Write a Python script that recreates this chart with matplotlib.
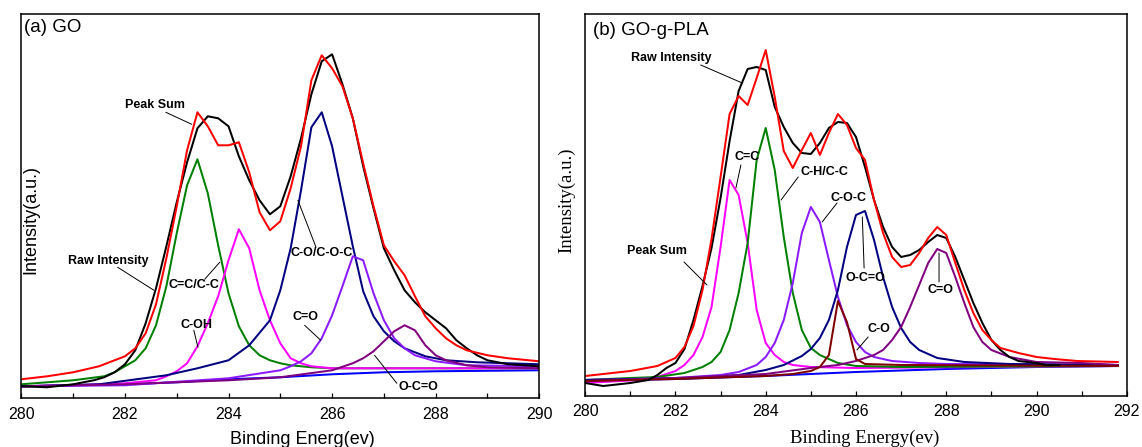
import matplotlib
matplotlib.use("Agg")
import matplotlib.pyplot as plt

plt.rcParams['font.family'] = ['Liberation Sans', 'DejaVu Sans']

# ---------------- (a) GO ----------------
go_raw_e = [280, 280.5, 281, 281.4, 281.6, 281.8, 282, 282.2, 282.4, 282.6, 282.8, 283, 283.2, 283.4, 283.6,
            283.8, 284, 284.2, 284.4, 284.6, 284.8, 285, 285.2, 285.4, 285.6, 285.8, 286, 286.2, 286.4, 286.6,
            286.8, 287, 287.2, 287.4, 287.6, 287.8, 288, 288.2, 288.4, 288.6, 288.8, 289, 289.4, 290]
go_raw_i = [12, 11, 14, 18, 21, 26, 34, 48, 75, 110, 152, 196, 236, 270, 282,
            280, 272, 242, 218, 198, 184, 192, 222, 260, 304, 337, 344, 314, 280, 232,
            190, 150, 128, 108, 96, 86, 78, 70, 58, 50, 43, 38, 34, 32]

go_sum_e = [280, 280.5, 281, 281.5, 282, 282.2, 282.4, 282.6, 282.8, 283, 283.2, 283.4, 283.6, 283.8, 284,
            284.2, 284.4, 284.6, 284.8, 285, 285.2, 285.4, 285.6, 285.8, 286, 286.2, 286.4, 286.6, 286.8, 287,
            287.2, 287.4, 287.6, 287.8, 288, 288.2, 288.4, 288.6, 289, 289.4, 290]
go_sum_i = [19, 22, 26, 32, 42, 50, 65, 94, 140, 192, 248, 286, 272, 253, 253,
            256, 226, 186, 168, 177, 210, 252, 318, 343, 330, 312, 280, 235, 192, 153,
            137, 123, 102, 82, 70, 60, 53, 48, 43, 40, 37]

go_cc_e = [280, 281, 281.6, 281.8, 282, 282.2, 282.4, 282.6, 282.8, 283, 283.2, 283.4, 283.6, 283.8, 284,
           284.2, 284.4, 284.6, 284.8, 285, 285.2, 285.6, 286, 287, 290]
go_cc_i = [14, 18, 22, 26, 32, 38, 50, 73, 112, 165, 213, 239, 205, 153, 105,
           72, 53, 43, 38, 35, 33, 31, 30, 30, 30]

go_coh_e = [280, 281, 282, 282.6, 282.8, 283, 283.2, 283.4, 283.6, 283.8, 284, 284.2, 284.4, 284.6, 284.8,
            285, 285.2, 285.4, 285.6, 286, 287, 290]
go_coh_i = [12, 13, 15, 18, 22, 27, 35, 52, 75, 102, 138, 169, 150, 108, 78,
            55, 40, 35, 32, 30, 30, 30]

go_co_e = [280, 281.5, 282.8, 283.4, 284, 284.4, 284.8, 285, 285.2, 285.4, 285.6, 285.8, 286, 286.2, 286.4,
           286.6, 286.8, 287, 287.2, 287.4, 287.8, 288.2, 288.8, 290]
go_co_i = [12, 14, 23, 30, 38, 53, 78, 108, 150, 208, 271, 286, 252, 202, 152,
           107, 82, 67, 57, 50, 42, 38, 36, 34]

go_c_o_e = [280, 282, 284, 285, 285.2, 285.4, 285.6, 285.8, 286, 286.2, 286.4, 286.6, 286.8, 287, 287.2,
            287.4, 287.6, 288, 288.6, 290]
go_c_o_i = [12, 13, 20, 28, 32, 37, 45, 60, 83, 112, 142, 138, 105, 78, 60,
            50, 43, 37, 33, 32]

go_occ_e = [280, 282, 284, 285, 286, 286.4, 286.6, 286.8, 287, 287.2, 287.4, 287.6, 287.8, 288, 288.2,
            288.6, 289, 290]
go_occ_i = [12, 14, 18, 21, 28, 35, 40, 47, 57, 67, 73, 68, 53, 43, 38,
            33, 31, 30]

go_bg_e = [280, 282, 283, 284, 285, 286, 287, 288, 290]
go_bg_i = [12, 14, 16, 19, 21, 24, 26, 27, 28]

# ---------------- (b) GO-g-PLA ----------------
pla_raw_e = [280, 280.4, 281, 281.4, 281.6, 281.8, 282, 282.2, 282.4, 282.6, 282.8, 283, 283.2, 283.4, 283.6,
             283.8, 284, 284.2, 284.4, 284.6, 284.8, 285, 285.2, 285.4, 285.6, 285.8, 286, 286.2, 286.4, 286.6,
             286.8, 287, 287.2, 287.4, 287.6, 287.8, 288, 288.2, 288.4, 288.6, 288.8, 289, 289.2, 289.4, 289.6,
             290, 290.2, 290.5]
pla_raw_i = [13, 10, 13, 16, 21, 28, 33, 47, 76, 110, 148, 198, 255, 305, 327,
             329, 326, 289, 269, 253, 243, 242, 253, 268, 274, 273, 259, 229, 196, 169,
             149, 139, 141, 146, 154, 161, 158, 139, 116, 93, 73, 56, 46, 39, 35,
             33, 31, 31]

pla_sum_e = [280, 281, 281.6, 282, 282.2, 282.4, 282.6, 282.8, 283, 283.2, 283.4, 283.6, 283.8, 284, 284.2,
             284.4, 284.6, 284.8, 285, 285.2, 285.4, 285.6, 285.8, 286, 286.2, 286.4, 286.6, 286.8, 287, 287.2,
             287.4, 287.6, 287.8, 288, 288.2, 288.4, 288.6, 288.8, 289, 289.2, 289.6, 290, 290.4, 290.9, 291.8]
pla_sum_i = [20, 25, 30, 38, 49, 70, 106, 157, 219, 282, 300, 291, 318, 346, 299,
             245, 228, 246, 263, 241, 263, 282, 271, 248, 236, 196, 163, 139, 129, 131,
             143, 158, 169, 161, 133, 106, 83, 66, 56, 48, 43, 39, 37, 35, 34]

pla_cc_e = [280, 281.2, 281.6, 282, 282.2, 282.4, 282.6, 282.8, 283, 283.2, 283.4, 283.6, 283.8, 284, 284.2,
            284.4, 284.6, 285, 286, 291.8]
pla_cc_i = [13, 16, 19, 25, 31, 41, 59, 89, 149, 216, 201, 153, 86, 53, 41,
            34, 31, 29, 28, 30]

pla_ch_e = [280, 281, 281.6, 282.2, 282.6, 282.8, 283, 283.2, 283.4, 283.6, 283.8, 284, 284.2, 284.4, 284.6,
            284.8, 285, 285.2, 285.6, 286, 287, 291.8]
pla_ch_i = [16, 18, 19, 23, 29, 34, 44, 66, 103, 153, 236, 268, 226, 159, 103,
            66, 48, 41, 33, 30, 29, 30]

pla_coc_e = [280, 282, 283, 283.4, 283.8, 284, 284.2, 284.4, 284.6, 284.8, 285, 285.2, 285.4, 285.6, 285.8,
             286, 286.2, 286.4, 286.8, 287.4, 288, 291.8]
pla_coc_i = [16, 18, 21, 24, 31, 39, 53, 76, 113, 163, 189, 174, 136, 99, 71,
             54, 44, 39, 35, 33, 32, 31]

pla_oco_e = [280, 282.5, 283.4, 284, 284.4, 284.8, 285, 285.2, 285.4, 285.6, 285.8, 286, 286.2, 286.4, 286.6,
             286.8, 287, 287.2, 287.4, 287.8, 288.4, 289.4, 291.8]
pla_oco_i = [16, 18, 21, 26, 31, 40, 47, 58, 76, 106, 149, 181, 185, 156, 119,
             89, 68, 54, 46, 38, 34, 32, 31]

pla_c_o_e = [280, 282, 284, 284.6, 285, 285.2, 285.4, 285.6, 285.8, 286, 286.2, 287, 291.8]
pla_c_o_i = [15, 17, 20, 22, 25, 29, 41, 95, 74, 37, 32, 31, 30]

pla_co_e = [280, 282, 284, 285, 285.6, 286, 286.4, 286.6, 286.8, 287, 287.2, 287.4, 287.6, 287.8, 288,
            288.2, 288.4, 288.6, 288.8, 289, 289.4, 290, 291, 291.8]
pla_co_i = [15, 18, 22, 28, 31, 35, 41, 46, 56, 69, 89, 111, 133, 147, 143,
            119, 93, 69, 54, 46, 39, 34, 33, 31]

pla_bg_e = [280, 282, 284, 286, 288, 290, 291.8]
pla_bg_i = [15, 17, 20, 24, 27, 29, 30]

lw = 1.45
fig = plt.figure(figsize=(11.42, 4.47), dpi=100)
ax1 = fig.add_axes([0.0187, 0.109, 0.4535, 0.8597])
ax2 = fig.add_axes([0.5124, 0.1141, 0.4743, 0.8546])

# panel a
ax1.plot(go_bg_e, go_bg_i, color="#0000ff", lw=lw)
ax1.plot(go_cc_e, go_cc_i, color="#008000", lw=lw)
ax1.plot(go_coh_e, go_coh_i, color="#ff00ff", lw=lw)
ax1.plot(go_co_e, go_co_i, color="#000080", lw=lw)
ax1.plot(go_c_o_e, go_c_o_i, color="#8c1aff", lw=lw)
ax1.plot(go_occ_e, go_occ_i, color="#800080", lw=lw)
ax1.plot(go_raw_e, go_raw_i, color="black", lw=lw)
ax1.plot(go_sum_e, go_sum_i, color="#ff0000", lw=lw)
ax1.set_xlim(280, 290)
ax1.set_ylim(0, 384.3)
ax1.set_xticks(range(280, 291, 2))
ax1.set_xticks(range(280, 291, 1), minor=True)

# panel b
ax2.plot(pla_bg_e, pla_bg_i, color="#0000ff", lw=lw)
ax2.plot(pla_cc_e, pla_cc_i, color="#ff00ff", lw=lw)
ax2.plot(pla_ch_e, pla_ch_i, color="#008000", lw=lw)
ax2.plot(pla_coc_e, pla_coc_i, color="#8c1aff", lw=lw)
ax2.plot(pla_oco_e, pla_oco_i, color="#000080", lw=lw)
ax2.plot(pla_co_e, pla_co_i, color="#800080", lw=lw)
ax2.plot(pla_c_o_e, pla_c_o_i, color="#800000", lw=lw)
ax2.plot(pla_raw_e, pla_raw_i, color="black", lw=lw)
ax2.plot(pla_sum_e, pla_sum_i, color="#ff0000", lw=lw)
ax2.set_xlim(280, 292)
ax2.set_ylim(0, 382)
ax2.set_xticks(range(280, 293, 2))
ax2.set_xticks(range(280, 293, 1), minor=True)

for ax in (ax1, ax2):
    ax.set_yticks([])
    ax.tick_params(axis="x", which="both", direction="in", length=3.5, width=0.9,
                   labelsize=11.5, pad=6)
    for s in ax.spines.values():
        s.set_linewidth(1.1)

# labels
ax1.text(0.005, 0.966, "(a) GO", transform=ax1.transAxes, fontsize=13.5, va="center", ha="left")
ax2.text(0.015, 0.958, "(b) GO-g-PLA", transform=ax2.transAxes, fontsize=13.5, va="center", ha="left")
fig.text(0.027, 0.51, "Intensity(a.u.)", rotation=90, fontsize=13, ha="center", va="center")
fig.text(0.265, 0.036, "Binding Energ(ev)", fontsize=13, ha="center", va="top")
fig.text(0.4965, 0.553, "Intensity(a.u.)", rotation=90, fontsize=13.5, ha="center", va="center",
         family="Liberation Serif")
fig.text(0.757, 0.038, "Binding Energy(ev)", fontsize=13.5, ha="center", va="top",
         family="Liberation Serif")

def label(ax, txt, pos, start, end):
    ax.text(pos[0], pos[1], txt, fontsize=9, fontweight="bold", ha="center", va="center")
    ax.annotate("", xy=end, xytext=start,
                arrowprops=dict(arrowstyle="-", lw=0.7, color="black", shrinkA=0, shrinkB=0))

label(ax1, "Peak Sum", (282.57, 293), (282.79, 286), (283.29, 274))
label(ax1, "Raw Intensity", (281.68, 137), (281.86, 131), (282.56, 108))
label(ax1, "C=C/C-C", (283.34, 113), (283.54, 119), (283.83, 136))
label(ax1, "C-OH", (283.38, 73), (283.33, 68), (283.41, 51))
label(ax1, "C-O/C-O-C", (285.79, 145), (285.69, 151), (285.34, 198))
label(ax1, "C=O", (285.48, 81), (285.47, 73), (285.78, 58))
label(ax1, "O-C=O", (287.66, 11), (287.25, 15), (286.82, 43))

label(ax2, "Raw Intensity", (281.90, 338), (282.56, 331), (283.48, 313))
label(ax2, "Peak Sum", (281.58, 145), (282.19, 134), (282.70, 111))
label(ax2, "C=C", (283.58, 239), (283.45, 231), (283.34, 208))
label(ax2, "C-H/C-C", (285.30, 224), (284.72, 219), (284.34, 196))
label(ax2, "C-O-C", (285.84, 198), (285.58, 193), (285.25, 174))
label(ax2, "O-C=O", (286.20, 118), (286.18, 128), (286.14, 179))
label(ax2, "C=O", (287.88, 106), (287.84, 114), (287.84, 143))
label(ax2, "C-O", (286.50, 67), (286.27, 59), (286.02, 46))

fig.savefig("out.png", dpi=100)
